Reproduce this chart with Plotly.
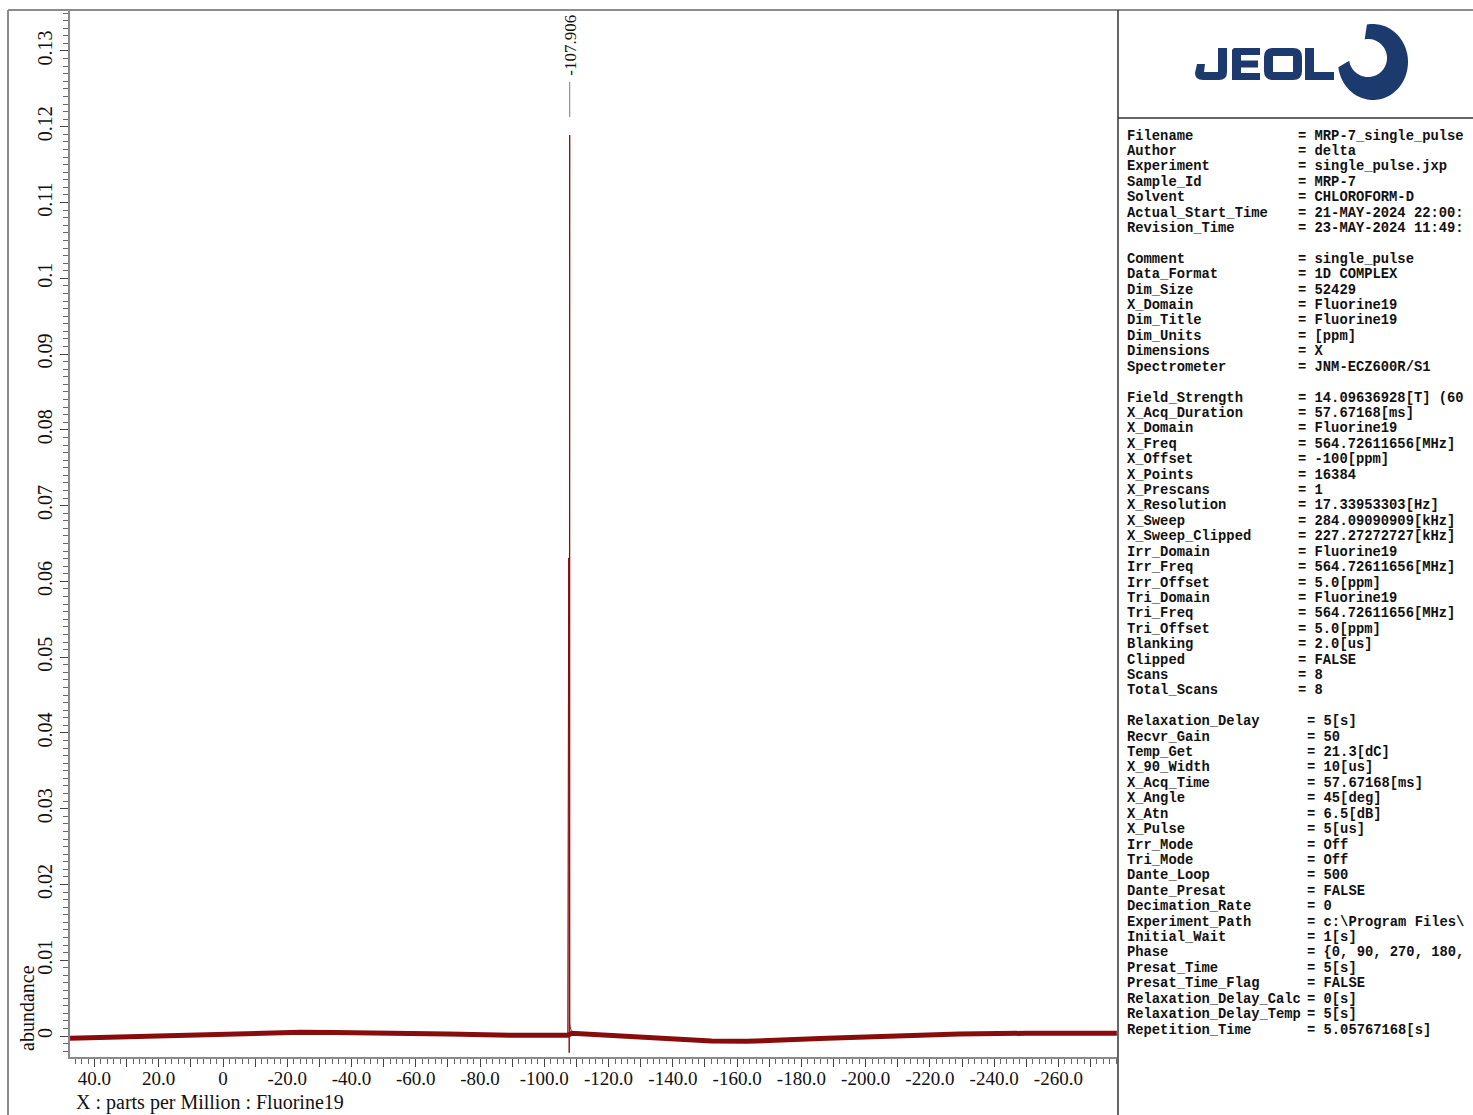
import math
import plotly.graph_objects as go

# ---------------- spectrum data (19F, ppm vs abundance) ----------------
baseline_ppm = [47.6, 40.0, 30.0, 17.0, 5.0, -3.0, -15.0, -24.0, -35.0, -45.0,
                -55.0, -70.0, -90.0, -105.0, -107.3, -108.6, -115.0, -121.0,
                -132.0, -142.0, -152.0, -163.0, -173.0, -188.0, -200.0, -208.0,
                -229.0, -250.0, -270.0, -278.2]
baseline_abundance = [-0.0003, -0.0002, -0.0001, 0.0, 0.0001, 0.00026, 0.0004,
                      0.0005, 0.00047, 0.00044, 0.00036, 0.00026, 0.0001, 0.00005,
                      0.0001, 0.00036, 0.0002, 0.0, -0.00022, -0.0005, -0.00066,
                      -0.0007, -0.0006, -0.0003, -0.00012, 0.0, 0.00026, 0.00036,
                      0.00036, 0.00036]

peak_ppm_label = -107.906
peak_ppm = [-107.30, -107.60, -107.75, peak_ppm_label, -107.95, -108.05, -108.6]
peak_abundance = [0.0001, 0.0631, -0.0022, 0.1189, 0.0018, 0.0012, 0.00036]

x_tick_vals = [40, 30, 20, 10, 0, -10, -20, -30, -40, -50, -60, -70, -80, -90,
               -100, -110, -120, -130, -140, -150, -160, -170, -180, -190, -200,
               -210, -220, -230, -240, -250, -260, -270]
x_tick_text = ["40.0", "", "20.0", "", "0", "", "-20.0", "", "-40.0", "", "-60.0",
               "", "-80.0", "", "-100.0", "", "-120.0", "", "-140.0", "", "-160.0",
               "", "-180.0", "", "-200.0", "", "-220.0", "", "-240.0", "", "-260.0", ""]
y_tick_vals = [0, 0.01, 0.02, 0.03, 0.04, 0.05, 0.06, 0.07, 0.08, 0.09, 0.10,
               0.11, 0.12, 0.13]
y_tick_text = ["0", "0.01", "0.02", "0.03", "0.04", "0.05", "0.06", "0.07", "0.08",
               "0.09", "0.1", "0.11", "0.12", "0.13"]

# ---------------- acquisition parameters ----------------
param_blocks = [
    [("Filename", "= MRP-7_single_pulse"),
     ("Author", "= delta"),
     ("Experiment", "= single_pulse.jxp"),
     ("Sample_Id", "= MRP-7"),
     ("Solvent", "= CHLOROFORM-D"),
     ("Actual_Start_Time", "= 21-MAY-2024 22:00:"),
     ("Revision_Time", "= 23-MAY-2024 11:49:")],
    [("Comment", "= single_pulse"),
     ("Data_Format", "= 1D COMPLEX"),
     ("Dim_Size", "= 52429"),
     ("X_Domain", "= Fluorine19"),
     ("Dim_Title", "= Fluorine19"),
     ("Dim_Units", "= [ppm]"),
     ("Dimensions", "= X"),
     ("Spectrometer", "= JNM-ECZ600R/S1")],
    [("Field_Strength", "= 14.09636928[T] (60"),
     ("X_Acq_Duration", "= 57.67168[ms]"),
     ("X_Domain", "= Fluorine19"),
     ("X_Freq", "= 564.72611656[MHz]"),
     ("X_Offset", "= -100[ppm]"),
     ("X_Points", "= 16384"),
     ("X_Prescans", "= 1"),
     ("X_Resolution", "= 17.33953303[Hz]"),
     ("X_Sweep", "= 284.09090909[kHz]"),
     ("X_Sweep_Clipped", "= 227.27272727[kHz]"),
     ("Irr_Domain", "= Fluorine19"),
     ("Irr_Freq", "= 564.72611656[MHz]"),
     ("Irr_Offset", "= 5.0[ppm]"),
     ("Tri_Domain", "= Fluorine19"),
     ("Tri_Freq", "= 564.72611656[MHz]"),
     ("Tri_Offset", "= 5.0[ppm]"),
     ("Blanking", "= 2.0[us]"),
     ("Clipped", "= FALSE"),
     ("Scans", "= 8"),
     ("Total_Scans", "= 8")],
    [("Relaxation_Delay", "= 5[s]"),
     ("Recvr_Gain", "= 50"),
     ("Temp_Get", "= 21.3[dC]"),
     ("X_90_Width", "= 10[us]"),
     ("X_Acq_Time", "= 57.67168[ms]"),
     ("X_Angle", "= 45[deg]"),
     ("X_Atn", "= 6.5[dB]"),
     ("X_Pulse", "= 5[us]"),
     ("Irr_Mode", "= Off"),
     ("Tri_Mode", "= Off"),
     ("Dante_Loop", "= 500"),
     ("Dante_Presat", "= FALSE"),
     ("Decimation_Rate", "= 0"),
     ("Experiment_Path", "= c:\\Program Files\\"),
     ("Initial_Wait", "= 1[s]"),
     ("Phase", "= {0, 90, 270, 180,"),
     ("Presat_Time", "= 5[s]"),
     ("Presat_Time_Flag", "= FALSE"),
     ("Relaxation_Delay_Calc", "= 0[s]"),
     ("Relaxation_Delay_Temp", "= 5[s]"),
     ("Repetition_Time", "= 5.05767168[s]")],
]

# ---------------- page geometry (pixels) ----------------
W, H = 1473, 1115
PLOT_L, PLOT_R, PLOT_T, PLOT_B = 70, 1117, 10, 1057
X_RANGE = [47.62, -278.24]
Y_RANGE = [-0.00277, 0.13541]
SPEC_COLOR = "#880c0c"
NAVY = "#1d3a6e"
SERIF = "Liberation Serif"
MONO = "Liberation Mono"


def px(x):
    return x / W


def py(y):
    return 1 - y / H


def pixel_path(p):
    """Convert an SVG-like path written in page pixels into paper coordinates."""
    out = []
    for tok in p.split():
        if "," in tok:
            a, b = tok.split(",")
            out.append(f"{px(float(a)):.6f},{py(float(b)):.6f}")
        else:
            out.append(tok)
    return " ".join(out)


fig = go.Figure()

fig.add_trace(go.Scatter(
    x=baseline_ppm, y=baseline_abundance, mode="lines",
    line=dict(color=SPEC_COLOR, width=5), hoverinfo="skip", showlegend=False))
fig.add_trace(go.Scatter(
    x=peak_ppm, y=peak_abundance, mode="lines",
    line=dict(color=SPEC_COLOR, width=1), hoverinfo="skip", showlegend=False))

shapes = []
annotations = []

# outer frame and panel dividers
shapes.append(dict(type="line", xref="paper", yref="paper",
                   x0=px(8), x1=px(8), y0=py(10), y1=py(1115),
                   line=dict(color="#8c8c8c", width=2)))
shapes.append(dict(type="line", xref="paper", yref="paper",
                   x0=px(8), x1=px(1473), y0=py(10), y1=py(10),
                   line=dict(color="#8c8c8c", width=2)))
shapes.append(dict(type="line", xref="paper", yref="paper",
                   x0=px(1118), x1=px(1118), y0=py(10), y1=py(1115),
                   line=dict(color="#333333", width=1.5)))
shapes.append(dict(type="line", xref="paper", yref="paper",
                   x0=px(1118), x1=px(1473), y0=py(118), y1=py(118),
                   line=dict(color="#333333", width=1.5)))

# peak pick marker
shapes.append(dict(type="line", xref="x", yref="paper",
                   x0=peak_ppm_label, x1=peak_ppm_label, y0=py(82), y1=py(117),
                   line=dict(color="#7a7a7a", width=1)))
annotations.append(dict(x=peak_ppm_label, xref="x", y=py(45), yref="paper",
                        text=f"{peak_ppm_label:.3f}", textangle=-90, showarrow=False,
                        xanchor="center", yanchor="middle",
                        font=dict(family=SERIF, size=17, color="#111111")))

# axis titles
annotations.append(dict(x=px(27), y=py(1008), xref="paper", yref="paper",
                        text="abundance", textangle=-90, showarrow=False,
                        xanchor="center", yanchor="middle",
                        font=dict(family=SERIF, size=20, color="#111111")))
annotations.append(dict(x=px(74), y=py(1102), xref="paper", yref="paper",
                        text="X : parts per Million : Fluorine19", showarrow=False,
                        xanchor="left", yanchor="middle",
                        font=dict(family=SERIF, size=20, color="#111111")))

# ---------------- JEOL logo ----------------
logo_paths = [
    # J
    "M 1218,48 L 1227,48 L 1227,72 Q 1227,80 1219,80 L 1203,80 Q 1195,80 1195,73 "
    "L 1197,64 L 1205,64 L 1204,72 L 1218,72 Z",
    # E
    "M 1234,48 L 1260,48 L 1260,55 L 1241,55 L 1241,60.5 L 1258,60.5 L 1258,67.5 "
    "L 1241,67.5 L 1241,73 L 1260,73 L 1260,80 L 1232,80 L 1232,50 Z",
    # O outer
    "M 1273,48 L 1293,48 Q 1302,48 1302,57 L 1302,71 Q 1302,80 1293,80 L 1273,80 "
    "Q 1264,80 1264,71 L 1264,57 Q 1264,48 1273,48 Z",
    # L
    "M 1305,48 L 1314,48 L 1314,72 L 1334,72 L 1334,80 L 1305,80 Z",
]
for p in logo_paths:
    shapes.append(dict(type="path", xref="paper", yref="paper", path=pixel_path(p),
                       fillcolor=NAVY, line=dict(width=0)))
shapes.append(dict(type="path", xref="paper", yref="paper",
                   path=pixel_path("M 1273,56 L 1293,56 L 1293,72 L 1273,72 Z"),
                   fillcolor="white", line=dict(width=0)))

# ring emblem: an open ring with an off-centre hole
cx_o, cy_o, rx_o, ry_o = 1373, 62, 35, 38
cx_i, cy_i, r_i = 1368, 58, 19
start_deg, end_deg = 100, -172
n = 90
pts = []
for k in range(n + 1):
    t = math.radians(start_deg + (end_deg - start_deg) * k / n)
    pts.append((cx_o + rx_o * math.cos(t), cy_o - ry_o * math.sin(t)))
for k in range(n + 1):
    t = math.radians(end_deg + (start_deg - end_deg) * k / n)
    pts.append((cx_i + r_i * math.cos(t), cy_i - r_i * math.sin(t)))
ring = "M " + " L ".join(f"{x:.2f},{y:.2f}" for x, y in pts) + " Z"
shapes.append(dict(type="path", xref="paper", yref="paper", path=pixel_path(ring),
                   fillcolor=NAVY, line=dict(width=0)))

# ---------------- parameter listing ----------------
ROW0, ROW_STEP = 136, 15.414
KEY_X = 1125
VALUE_X = [1296, 1296, 1296, 1305]
TABLE_FONT = dict(family=MONO, size=13.8, color="#111111", weight="bold")
row = 0
for b, block in enumerate(param_blocks):
    for key, val in block:
        yy = py(ROW0 + row * ROW_STEP)
        annotations.append(dict(x=px(KEY_X), y=yy, xref="paper", yref="paper",
                                text=key, showarrow=False, xanchor="left",
                                yanchor="middle", font=TABLE_FONT))
        annotations.append(dict(x=px(VALUE_X[b]), y=yy, xref="paper", yref="paper",
                                text=val, showarrow=False, xanchor="left",
                                yanchor="middle", font=TABLE_FONT))
        row += 1
    row += 1

fig.update_layout(
    width=W, height=H, autosize=False,
    margin=dict(l=0, r=0, t=0, b=0, pad=0),
    paper_bgcolor="white", plot_bgcolor="white",
    showlegend=False,
    shapes=shapes, annotations=annotations,
    xaxis=dict(
        domain=[px(PLOT_L), px(PLOT_R)], range=X_RANGE,
        tickmode="array", tickvals=x_tick_vals, ticktext=x_tick_text,
        ticks="outside", ticklen=8, tickwidth=1, tickcolor="#444444",
        ticklabelstandoff=-5,
        showline=True, linecolor="#8a8a8a", linewidth=1.5,
        showgrid=False, zeroline=False,
        tickfont=dict(family=SERIF, size=19, color="#111111"),
        minor=dict(dtick=2, tick0=0, ticks="outside", ticklen=5,
                   tickwidth=1, tickcolor="#666666", showgrid=False),
    ),
    yaxis=dict(
        domain=[py(PLOT_B), py(PLOT_T)], range=Y_RANGE,
        tickmode="array", tickvals=y_tick_vals, ticktext=y_tick_text,
        tickangle=-90,
        ticks="outside", ticklen=8, tickwidth=1, tickcolor="#444444",
        showline=True, linecolor="#8a8a8a", linewidth=1.5,
        showgrid=False, zeroline=False,
        tickfont=dict(family=SERIF, size=20, color="#111111"),
        minor=dict(dtick=0.001, tick0=0, ticks="outside", ticklen=5,
                   tickwidth=1, tickcolor="#666666", showgrid=False),
    ),
)

fig.write_html("out.html")
